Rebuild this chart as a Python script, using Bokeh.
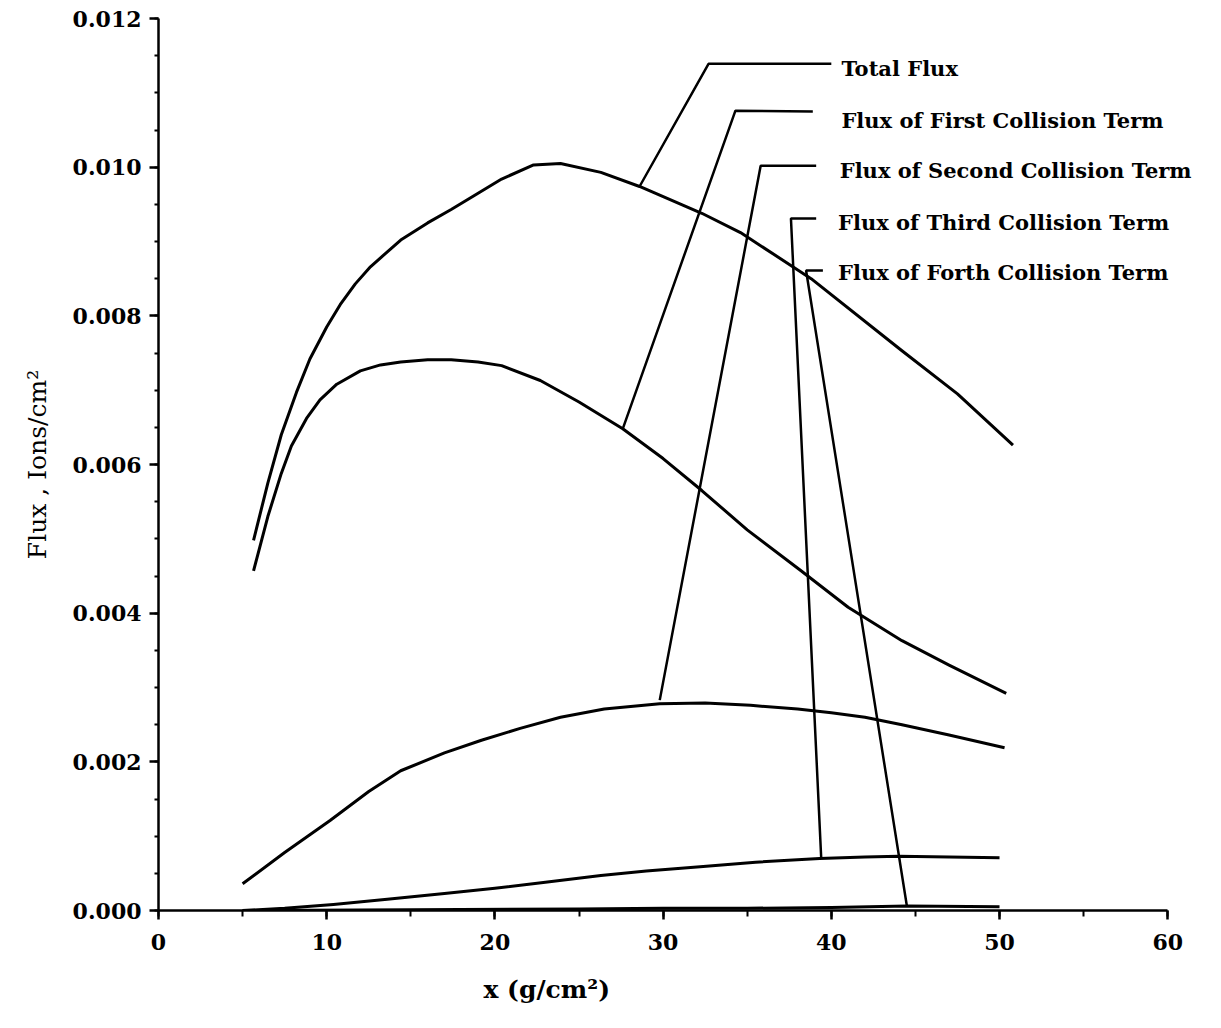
import math
from bokeh.plotting import figure
from bokeh.models import Label, PrintfTickFormatter, FixedTicker, Range1d, Title
from bokeh.embed import file_html
from bokeh.resources import INLINE

# ---- data ----
total_x = [5.65, 6.5, 7.3, 8.2, 9.0, 10.0, 10.8, 11.7, 12.6, 14.4, 16.0, 17.4, 19.0, 20.4, 22.3, 23.9, 26.3, 28.6, 32.3, 34.6, 38.8, 44.2, 47.5, 50.8]
total_y = [0.00498, 0.00575, 0.00640, 0.00697, 0.00742, 0.00785, 0.00815, 0.00843, 0.00866, 0.00902, 0.00925, 0.00943, 0.00965, 0.00984, 0.01003, 0.01005, 0.00993, 0.00974, 0.00938, 0.00912, 0.00850, 0.00753, 0.00695, 0.00626]

first_x = [5.65, 6.5, 7.3, 7.9, 8.8, 9.6, 10.6, 12.0, 13.2, 14.4, 16.0, 17.4, 19.0, 20.4, 22.7, 25.0, 27.6, 30.0, 32.3, 35.0, 38.2, 41.0, 44.2, 47.0, 50.4]
first_y = [0.00457, 0.00530, 0.00588, 0.00625, 0.00662, 0.00687, 0.00708, 0.00726, 0.00734, 0.00738, 0.00741, 0.00741, 0.00738, 0.00733, 0.00713, 0.00684, 0.00648, 0.00608, 0.00565, 0.00512, 0.00457, 0.00408, 0.00363, 0.00330, 0.00292]

second_x = [5.0, 7.5, 10.2, 12.5, 14.4, 17.0, 19.2, 21.5, 23.9, 26.5, 29.8, 32.5, 35.2, 38.0, 40.0, 42.0, 44.2, 47.0, 50.3]
second_y = [0.00036, 0.00078, 0.00121, 0.00160, 0.00188, 0.00212, 0.00229, 0.00245, 0.00260, 0.00271, 0.00278, 0.00279, 0.00276, 0.00271, 0.00266, 0.00260, 0.00250, 0.00236, 0.00219]

third_x = [5.0, 7.5, 10.4, 13.6, 17.0, 20.0, 23.0, 26.3, 29.0, 32.2, 35.5, 39.3, 42.0, 44.0, 47.0, 50.0]
third_y = [0.0, 0.00003, 0.00008, 0.00015, 0.00023, 0.00030, 0.00038, 0.00047, 0.00053, 0.00059, 0.00065, 0.00070, 0.00072, 0.00073, 0.00072, 0.00071]

fourth_x = [5.0, 15.0, 25.0, 30.0, 35.0, 40.0, 44.5, 50.0]
fourth_y = [0.0, 0.00001, 0.00002, 0.00003, 0.00003, 0.00004, 0.00006, 0.00005]

label_text = ["Total Flux", "Flux of First Collision Term", "Flux of Second Collision Term",
              "Flux of Third Collision Term", "Flux of Forth Collision Term"]

# leader lines (curve point -> kink -> end of horizontal)
leader_x = [[28.6, 32.7, 40.0], [27.6, 34.3, 38.9], [29.8, 35.8, 39.1], [39.4, 37.6, 39.1], [44.5, 38.5, 39.5]]
leader_y = [[0.00974, 0.01139, 0.01139], [0.00648, 0.01076, 0.01075], [0.00283, 0.01002, 0.01002],
            [0.0007, 0.00931, 0.00931], [0.00005, 0.00861, 0.00861]]
label_x = [40.6, 40.6, 40.5, 40.4, 40.4]
label_y = [0.01133, 0.01063, 0.00996, 0.00926, 0.00858]

x_ticks = [0, 10, 20, 30, 40, 50, 60]
y_ticks = [0.0, 0.002, 0.004, 0.006, 0.008, 0.010, 0.012]

W, H = 1221, 1028
p = figure(width=W, height=H, output_backend="svg", toolbar_location=None,
           x_range=Range1d(0, 62.9), y_range=Range1d(0, 0.012),
           min_border_left=158, min_border_right=5, min_border_top=18, min_border_bottom=118)
p.outline_line_color = None
p.xgrid.visible = False
p.ygrid.visible = False
p.background_fill_color = "white"
p.border_fill_color = "white"

for xs, ys in [(total_x, total_y), (first_x, first_y), (second_x, second_y), (third_x, third_y), (fourth_x, fourth_y)]:
    p.line(xs, ys, line_color="black", line_width=3, line_join="round")

p.multi_line(leader_x, leader_y, line_color="black", line_width=2.5)

for t, lx, ly in zip(label_text, label_x, label_y):
    p.add_layout(Label(x=lx, y=ly, text=t, text_font="DejaVu Serif", text_font_style="bold",
                       text_font_size="21px", text_baseline="middle", text_align="left", text_color="black"))

# axes
for ax in (p.xaxis[0], p.yaxis[0]):
    ax.axis_line_width = 2.5
    ax.axis_line_color = "black"
    ax.major_tick_line_width = 2.5
    ax.minor_tick_line_width = 2
    ax.major_label_text_font = "DejaVu Serif"
    ax.major_label_text_font_style = "bold"
    ax.major_label_text_font_size = "22px"
    ax.major_label_text_color = "black"

p.xaxis.bounds = (0, 60)
p.xaxis.ticker = FixedTicker(ticks=x_ticks, minor_ticks=list(range(0, 61, 5)))
p.yaxis.ticker = FixedTicker(ticks=y_ticks, minor_ticks=[i * 0.0005 for i in range(25)])
p.yaxis.formatter = PrintfTickFormatter(format="%.3f")
p.xaxis.major_tick_out = 9
p.xaxis.major_tick_in = 0
p.xaxis.minor_tick_out = 6
p.xaxis.minor_tick_in = 0
p.yaxis.major_tick_out = 9
p.yaxis.major_tick_in = 0
p.yaxis.minor_tick_out = 4
p.yaxis.minor_tick_in = 0
p.xaxis.major_label_standoff = 14
p.yaxis.major_label_standoff = 8

# axis titles
p.yaxis.axis_label = "Flux , Ions/cm²"
p.yaxis.axis_label_text_font = "DejaVu Serif"
p.yaxis.axis_label_text_font_style = "normal"
p.yaxis.axis_label_text_font_size = "25px"
p.yaxis.axis_label_text_color = "black"
p.yaxis.axis_label_standoff = 18

xt = Title(text="x (g/cm²)", align="left", offset=325, text_font="DejaVu Serif", text_font_style="bold",
           text_font_size="25px", text_color="black", standoff=40)
p.add_layout(xt, "below")

open("out.html", "w").write(file_html(p, INLINE))
